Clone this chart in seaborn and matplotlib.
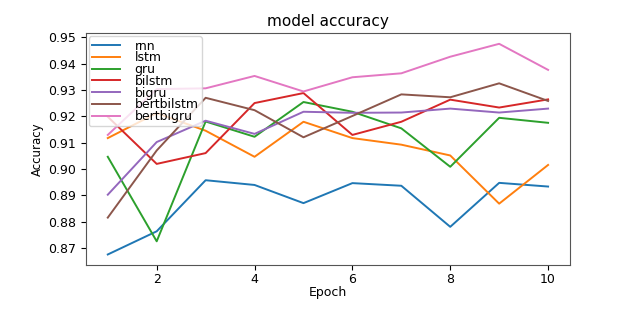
import matplotlib
matplotlib.use('Agg')
import matplotlib.pyplot as plt
import seaborn as sns
import pandas as pd

epochs = [1, 2, 3, 4, 5, 6, 7, 8, 9, 10]

rnn = [0.8675, 0.8763, 0.8957, 0.8939, 0.8870, 0.8946, 0.8936, 0.8780, 0.8947, 0.8933]
lstm = [0.9117, 0.9212, 0.9145, 0.9046, 0.9179, 0.9117, 0.9092, 0.9051, 0.8868, 0.9015]
gru = [0.9046, 0.8725, 0.9180, 0.9122, 0.9254, 0.9217, 0.9154, 0.9008, 0.9194, 0.9175]
bilstm = [0.9198, 0.9019, 0.9060, 0.9250, 0.9288, 0.9129, 0.9179, 0.9263, 0.9233, 0.9264]
bigru = [0.8902, 0.9102, 0.9183, 0.9133, 0.9217, 0.9213, 0.9214, 0.9229, 0.9214, 0.9229]
bertbilstm = [0.8815, 0.9070, 0.9270, 0.9223, 0.9120, 0.9201, 0.9283, 0.9272, 0.9325, 0.9258]
bertbigru = [0.9129, 0.9303, 0.9306, 0.9353, 0.9294, 0.9348, 0.9363, 0.9426, 0.9475, 0.9376]

models = ['rnn', 'lstm', 'gru', 'bilstm', 'bigru', 'bertbilstm', 'bertbigru']
series = [rnn, lstm, gru, bilstm, bigru, bertbilstm, bertbigru]

rows = []
for name, vals in zip(models, series):
    for e, v in zip(epochs, vals):
        rows.append({'Epoch': e, 'Accuracy': v, 'model': name})
df = pd.DataFrame(rows)

fig, ax = plt.subplots(figsize=(6.17, 3.17), dpi=100)
fig.subplots_adjust(left=0.139, right=0.924, bottom=0.164, top=0.895)

sns.lineplot(data=df, x='Epoch', y='Accuracy', hue='model',
             palette=sns.color_palette('tab10', len(models)),
             linewidth=1.4, ax=ax)

ax.set_title('model accuracy', fontsize=11, pad=5)
ax.set_xlabel('Epoch', fontsize=9, labelpad=0)
ax.set_ylabel('Accuracy', fontsize=8.5, labelpad=3)
ax.set_xticks([2, 4, 6, 8, 10])
ax.set_yticks([0.87, 0.88, 0.89, 0.90, 0.91, 0.92, 0.93, 0.94, 0.95])
ax.set_yticklabels(['0.87', '0.88', '0.89', '0.90', '0.91', '0.92', '0.93', '0.94', '0.95'])
ax.tick_params(labelsize=9, length=3.5)
ax.tick_params(axis='x', pad=2)
for s in ax.spines.values():
    s.set_color('#555555')

leg = ax.legend(loc='upper left', fontsize=9, labelspacing=-0.1,
                borderpad=0.25, borderaxespad=0.25, handlelength=2.2,
                handletextpad=1.2, title=None)

plt.savefig('out.png', dpi=100)
